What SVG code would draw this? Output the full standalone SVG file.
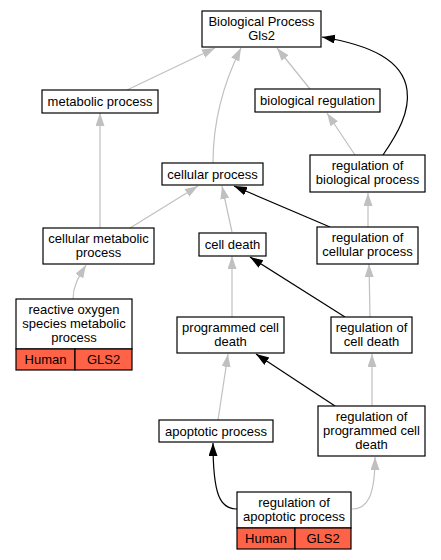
<svg xmlns="http://www.w3.org/2000/svg" width="441" height="560" viewBox="0 0 441 560">
<style>
.n rect{fill:#fff;stroke:#000;stroke-width:1.2}
.n rect.g{fill:#ff6347}
text{font-family:"Liberation Sans",Arial,sans-serif;font-size:13px;text-anchor:middle;fill:#000}
.e path{fill:none;stroke-width:1.2}
.e .gr{stroke:#c0c0c0;marker-end:url(#ag)}
.e .bk{stroke:#000;marker-end:url(#ab)}
</style>
<defs>
<marker id="ag" markerUnits="userSpaceOnUse" markerWidth="13" markerHeight="10" refX="13" refY="4.5" orient="auto"><path d="M0,0 L13,4.5 L0,9 z" fill="#c0c0c0"/></marker>
<marker id="ab" markerUnits="userSpaceOnUse" markerWidth="13" markerHeight="10" refX="13" refY="4.5" orient="auto"><path d="M0,0 L13,4.5 L0,9 z" fill="#000"/></marker>
</defs>
<rect width="441" height="560" fill="#fff"/>
<g id="edges" class="e">
<path class="gr" d="M127,90 L215,48"/>
<path class="gr" d="M213,163 C213,120 225,80 241,48"/>
<path class="gr" d="M310,89 L277,48"/>
<path class="gr" d="M355,155 L327,113"/>
<path class="gr" d="M100,228 L100,113"/>
<path class="gr" d="M130,228 L198,186"/>
<path class="gr" d="M232,232 L222,186"/>
<path class="gr" d="M368,227 L368,193"/>
<path class="gr" d="M73,299 C73,285 80,275 86,265"/>
<path class="gr" d="M232,317 L232,256"/>
<path class="gr" d="M370,317 L369,264"/>
<path class="gr" d="M218,420 L228,354"/>
<path class="gr" d="M372,406 L372,354"/>
<path class="gr" d="M352,509 C368,509 375,495 375,457"/>
<path class="bk" d="M383,155 C398,133 410,112 407,90 C403,60 370,45 322,37"/>
<path class="bk" d="M330,227 L234,186"/>
<path class="bk" d="M345,317 L250,257"/>
<path class="bk" d="M335,406 L256,354"/>
<path class="bk" d="M237,509 C220,509 213,495 213,443"/>
</g>
<g id="bp" class="n"><rect x="202" y="11" width="119" height="36"/><text x="261.5" y="26">Biological Process</text><text x="261.5" y="40">Gls2</text></g>
<g id="metabolic" class="n"><rect x="42" y="90" width="116" height="23"/><text x="100" y="106">metabolic process</text></g>
<g id="bioreg" class="n"><rect x="255" y="89" width="125" height="23"/><text x="317.5" y="105">biological regulation</text></g>
<g id="cellular" class="n"><rect x="162" y="163" width="101" height="22"/><text x="212.5" y="178.5">cellular process</text></g>
<g id="regbio" class="n"><rect x="310" y="155" width="115" height="37"/><text x="367.5" y="170">regulation of</text><text x="367.5" y="184">biological process</text></g>
<g id="cellmet" class="n"><rect x="43" y="228" width="111" height="36"/><text x="98.5" y="243">cellular metabolic</text><text x="98.5" y="257">process</text></g>
<g id="celldeath" class="n"><rect x="199" y="233" width="67" height="23"/><text x="232.5" y="249">cell death</text></g>
<g id="regcell" class="n"><rect x="317" y="227" width="101" height="37"/><text x="367.5" y="242">regulation of</text><text x="367.5" y="256">cellular process</text></g>
<g id="ros" class="n"><rect x="16" y="299" width="116" height="50"/><rect class="g" x="16" y="349" width="59" height="21"/><rect class="g" x="75" y="349" width="57" height="21"/><text x="74" y="314">reactive oxygen</text><text x="74" y="328">species metabolic</text><text x="74" y="342">process</text><text x="45.5" y="364">Human</text><text x="103.5" y="364">GLS2</text></g>
<g id="pcd" class="n"><rect x="177" y="317" width="107" height="36"/><text x="230.5" y="332">programmed cell</text><text x="230.5" y="346">death</text></g>
<g id="regcd" class="n"><rect x="331" y="317" width="81" height="36"/><text x="371.5" y="332">regulation of</text><text x="371.5" y="346">cell death</text></g>
<g id="apop" class="n"><rect x="159" y="420" width="114" height="22"/><text x="216" y="435.5">apoptotic process</text></g>
<g id="regpcd" class="n"><rect x="318" y="406" width="107" height="50"/><text x="371.5" y="421">regulation of</text><text x="371.5" y="435">programmed cell</text><text x="371.5" y="449">death</text></g>
<g id="regapop" class="n"><rect x="237" y="492" width="114" height="36"/><rect class="g" x="237" y="528" width="58" height="21"/><rect class="g" x="295" y="528" width="56" height="21"/><text x="294" y="507">regulation of</text><text x="294" y="521">apoptotic process</text><text x="266" y="543">Human</text><text x="323" y="543">GLS2</text></g>
</svg>
